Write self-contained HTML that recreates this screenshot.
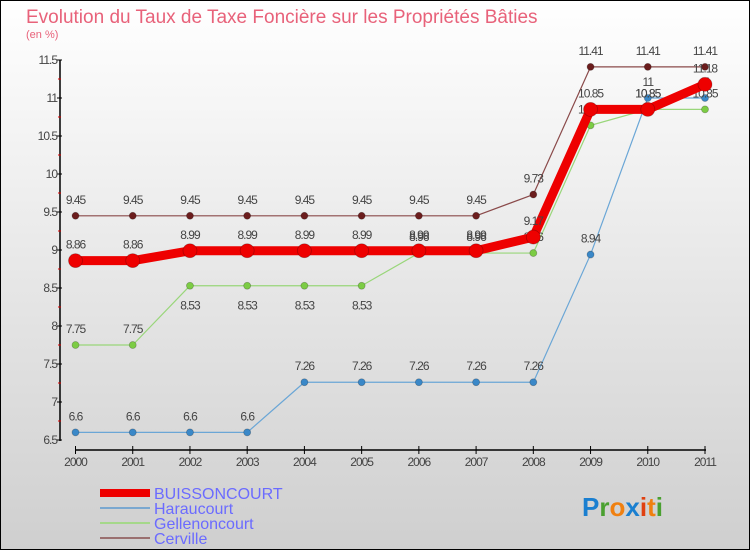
<!DOCTYPE html>
<html><head><meta charset="utf-8"><style>
body{margin:0;width:750px;height:550px;overflow:hidden;font-family:"Liberation Sans",sans-serif}
svg{display:block}
</style></head><body>
<svg id="chart" width="750" height="550" xmlns="http://www.w3.org/2000/svg">
<defs><linearGradient id="bg" x1="0" y1="0" x2="0" y2="1"><stop offset="0" stop-color="#ffffff"/><stop offset="1" stop-color="#cfcfcf"/></linearGradient></defs>
<rect x="0.5" y="0.5" width="749" height="549" fill="url(#bg)" stroke="#000"/>
<text x="26" y="23" font-size="19" fill="#e8627a">Evolution du Taux de Taxe Foncière sur les Propriétés Bâties</text>
<text x="26" y="38" font-size="11" fill="#e8627a">(en %)</text>
<g id="axes"></g><g id="series"></g>
<g>
<rect x="100" y="489" width="50" height="8" fill="#e00"/>
<text x="154" y="499" font-size="16" fill="#6b6bff">BUISSONCOURT</text>
<line x1="100" y1="508" x2="150" y2="508" stroke="#7aa8d0" stroke-width="2"/>
<text x="154" y="514" font-size="16" fill="#6b6bff">Haraucourt</text>
<line x1="100" y1="523" x2="150" y2="523" stroke="#a5d88a" stroke-width="2"/>
<text x="154" y="529" font-size="16" fill="#6b6bff">Gellenoncourt</text>
<line x1="100" y1="538" x2="150" y2="538" stroke="#9a7070" stroke-width="2"/>
<text x="154" y="544" font-size="16" fill="#6b6bff">Cerville</text>
</g>
<g font-size="26" font-weight="bold">
<text x="582" y="516"><tspan fill="#1a7fd0">P</tspan><tspan fill="#4aa030">r</tspan><tspan fill="#f08010">o</tspan><tspan fill="#1a7fd0">x</tspan><tspan fill="#e04010">i</tspan><tspan fill="#f08010">t</tspan><tspan fill="#4aa030">i</tspan></text>
</g>
</svg>
<script>
const years=["2000","2001","2002","2003","2004","2005","2006","2007","2008","2009","2010","2011"];
const yTicks=[6.5,7,7.5,8,8.5,9,9.5,10,10.5,11,11.5];
const buissoncourt=[8.86,8.86,8.99,8.99,8.99,8.99,8.99,8.99,9.17,10.85,10.85,11.18];
const haraucourt=[6.6,6.6,6.6,6.6,7.26,7.26,7.26,7.26,7.26,8.94,11,11];
const gellenoncourt=[7.75,7.75,8.53,8.53,8.53,8.53,8.96,8.96,8.96,10.64,10.85,10.85];
const cerville=[9.45,9.45,9.45,9.45,9.45,9.45,9.45,9.45,9.73,11.41,11.41,11.41];
const NS="http://www.w3.org/2000/svg";
const x=i=>75.5+i*(629.5/(years.length-1));
const y=v=>60+(11.5-v)*76;
function mk(t,a,p){const e=document.createElementNS(NS,t);for(const k in a)e.setAttribute(k,a[k]);p.appendChild(e);return e;}
const ax=document.getElementById('axes');
const yAxis=mk('line',{x1:60,y1:60,x2:60,y2:441,stroke:'#000','stroke-width':1.5},ax);


yTicks.forEach((v,i)=>{
 mk('line',{x1:57,y1:y(v),x2:62,y2:y(v),stroke:'#000'},ax);
 if(i<yTicks.length-1)mk('line',{x1:58,y1:y(v+0.25),x2:61,y2:y(v+0.25),stroke:'#d00'},ax);
 const t=mk('text',{x:57,y:y(v)+4,'font-size':12,fill:'#444','text-anchor':'end','letter-spacing':'-1'},ax);
 t.textContent=String(v);
 
 
});
const xAxis=mk('line',{x1:75,y1:450,x2:706,y2:450,stroke:'#000','stroke-width':1.5},ax);


years.forEach((yr,i)=>{
 mk('line',{x1:x(i),y1:446,x2:x(i),y2:454,stroke:'#000'},ax);
 const t=mk('text',{x:x(i),y:466,'font-size':12,fill:'#444','text-anchor':'middle','letter-spacing':'-1'},ax);
 t.textContent=yr;
 
 
});
const sg=document.getElementById('series');
function series(name,vals,color,dot,w,r,below){
 const g=mk('g',{},sg);
 
 
 const pl=mk('polyline',{points:vals.map((v,i)=>x(i)+','+y(v)).join(' '),fill:'none',stroke:color,'stroke-width':w,'stroke-linejoin':'round'},g);
 
 
 vals.forEach((v,i)=>{
  const c=mk('circle',{cx:x(i),cy:y(v),r:r,fill:dot,stroke:'rgba(0,0,0,0.25)','stroke-width':0.8},g);
  
  
  const b=below&&below(v,i);
  const t=mk('text',{x:x(i),y:b?y(v)+24:y(v)-12,'font-size':12,fill:'#444','text-anchor':'middle','letter-spacing':'-1'},g);
  t.textContent=String(v);
  
  
 });
}
series('cerville',cerville,'#8a4a4a','#6b1d1d',1.2,3.5);
series('haraucourt',haraucourt,'#6aa6d6','#3a88c8',1.2,3.5);
series('gellenoncourt',gellenoncourt,'#99d67a','#7ccc44',1.2,3.5,(v,i)=>i>=2&&i<=5);
series('buissoncourt',buissoncourt,'#ee0000','#ee0000',9,7);
</script>
</body></html>
